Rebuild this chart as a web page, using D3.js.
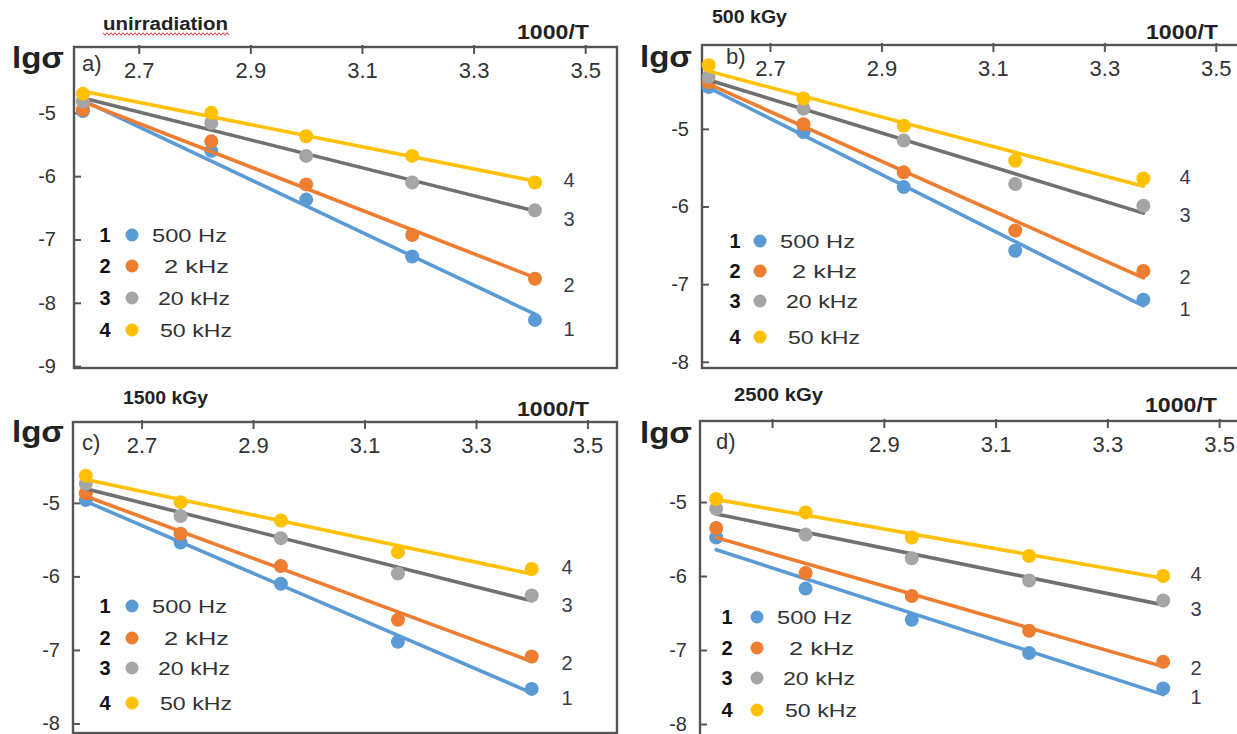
<!DOCTYPE html>
<html>
<head>
<meta charset="utf-8">
<script src="https://cdn.jsdelivr.net/npm/d3@7"></script>
<style>
  html, body { margin: 0; padding: 0; background: #fff; }
  svg { display: block; font-family: "Liberation Sans", Arial, sans-serif; }
</style>
</head>
<body>
<svg id="chart" width="1237" height="734"></svg>
<script>
// ---- data -------------------------------------------------------------
// 1000/T values at which lg(sigma) was measured, per dose
const xA = [2.60, 2.83, 3.00, 3.19, 3.41];
const xB = [2.59, 2.76, 2.94, 3.14, 3.37];
const xC = [2.60, 2.77, 2.95, 3.16, 3.40];
const xD = [2.60, 2.76, 2.95, 3.16, 3.40];

// lg(sigma) for 500 Hz, 2 kHz, 20 kHz, 50 kHz
const a500 = [-4.97, -5.60, -6.37, -7.27, -8.27];
const a2k  = [-4.95, -5.45, -6.13, -6.93, -7.62];
const a20k = [-4.82, -5.16, -5.68, -6.10, -6.54];
const a50k = [-4.70, -5.00, -5.37, -5.68, -6.10];

const b500 = [-4.46, -5.04, -5.75, -6.57, -7.20];
const b2k  = [-4.40, -4.94, -5.56, -6.31, -6.83];
const b20k = [-4.33, -4.74, -5.15, -5.71, -5.99];
const b50k = [-4.18, -4.61, -4.96, -5.41, -5.64];

const c500 = [-4.96, -5.54, -6.10, -6.89, -7.53];
const c2k  = [-4.87, -5.42, -5.86, -6.59, -7.09];
const c20k = [-4.74, -5.18, -5.48, -5.96, -6.26];
const c50k = [-4.63, -4.99, -5.24, -5.67, -5.90];

const d500 = [-5.48, -6.17, -6.59, -7.04, -7.52];
const d2k  = [-5.35, -5.96, -6.27, -6.74, -7.16];
const d20k = [-5.09, -5.44, -5.76, -6.06, -6.33];
const d50k = [-4.96, -5.14, -5.48, -5.73, -6.00];

const seriesNumbers = ["1", "2", "3", "4"];
const freqLabels = ["500 Hz", "2  kHz", "20 kHz", "50 kHz"];
const doseTitles = ["unirradiation", "500 kGy", "1500 kGy", "2500 kGy"];
const panelLetters = ["a)", "b)", "c)", "d)"];
const xTicks = [2.7, 2.9, 3.1, 3.3, 3.5];
const xTickLabels = ["2.7", "2.9", "3.1", "3.3", "3.5"];
const xTickLabelsD = ["", "2.9", "3.1", "3.3", "3.5"];
const yTicksA = [-9, -8, -7, -6, -5];
const yTicksBCD = [-8, -7, -6, -5];

// ---- styling ----------------------------------------------------------
const dotColors  = ["#5b9bd5", "#ed7d31", "#a5a5a5", "#ffc000"];
const lineColors = ["#5b9bd5", "#ed7d31", "#707070", "#ffc000"];
const frameColor = "#555";
const textDark = "#333";
const endLabelShift = [9, 6, 9, -2];

// ---- panel layout -----------------------------------------------------
const panels = [
  { title: doseTitles[0], letter: panelLetters[0], xs: xA, series: [a500, a2k, a20k, a50k],
    frame: { l: 74, t: 47, r: 617, b: 368 }, xDom: [2.584, 3.557], yDom: [-9.03, -3.96],
    yTicks: yTicksA, tickLabels: xTickLabels, yPad: 18,
    igs: [12, 68], letterPos: [82, 71], titlePos: [103, 30, 125], unitPos: [517, 39],
    legend: { num: 105, dot: 132, text: [152, 164, 158, 160], rows: [235, 266, 298, 330] },
    endX: 569, squiggle: true },
  { title: doseTitles[1], letter: panelLetters[1], xs: xB, series: [b500, b2k, b20k, b50k],
    frame: { l: 702, t: 45, r: 1242, b: 368 }, xDom: [2.578, 3.547], yDom: [-8.08, -3.92],
    yTicks: yTicksBCD, tickLabels: xTickLabels, yPad: 13,
    igs: [640, 67], letterPos: [726, 64], titlePos: [712, 23, 75], unitPos: [1146, 39],
    legend: { num: 735, dot: 760, text: [780, 792, 786, 788], rows: [241, 271, 301, 337] },
    endX: 1185 },
  { title: doseTitles[2], letter: panelLetters[2], xs: xC, series: [c500, c2k, c20k, c50k],
    frame: { l: 73, t: 422, r: 617, b: 733 }, xDom: [2.577, 3.553], yDom: [-8.13, -3.90],
    yTicks: yTicksBCD, tickLabels: xTickLabels, yPad: 13,
    igs: [12, 442], letterPos: [82, 450], titlePos: [123, 404, 85], unitPos: [517, 416],
    legend: { num: 105, dot: 132, text: [152, 164, 158, 160], rows: [606, 638, 668, 703] },
    endX: 567 },
  { title: doseTitles[3], letter: panelLetters[3], xs: xD, series: [d500, d2k, d20k, d50k],
    frame: { l: 700, t: 421, r: 1242, b: 740 }, xDom: [2.571, 3.541], yDom: [-8.216, -3.905],
    yTicks: yTicksBCD, tickLabels: xTickLabelsD, yPad: 13,
    igs: [640, 443], letterPos: [716, 449], titlePos: [734, 401, 89], unitPos: [1145, 412],
    legend: { num: 727, dot: 757, text: [777, 789, 783, 785], rows: [617, 648, 678, 710] },
    endX: 1196 }
];

const svg = d3.select("#chart");

function addText(g, x, y, str, o) {
  const t = g.append("text")
    .attr("x", x).attr("y", y)
    .attr("font-size", o.size)
    .attr("font-weight", o.weight || "normal")
    .attr("fill", o.fill || textDark)
    .attr("text-anchor", o.anchor || "start")
    .text(str);
  if (o.len) t.attr("textLength", o.len).attr("lengthAdjust", "spacingAndGlyphs");
  if (o.dy) t.attr("dy", o.dy);
  return t;
}

// least-squares straight line through a series
function fitLine(xs, ys) {
  const mx = d3.mean(xs), my = d3.mean(ys);
  const sxy = d3.sum(xs, (x, i) => (x - mx) * (ys[i] - my));
  const sxx = d3.sum(xs, x => (x - mx) * (x - mx));
  const k = sxy / sxx;
  return x => my + k * (x - mx);
}

panels.forEach(p => {
  const f = p.frame;
  const g = svg.append("g");
  const x = d3.scaleLinear().domain(p.xDom).range([f.l, f.r]);
  const y = d3.scaleLinear().domain(p.yDom).range([f.b, f.t]);

  // frame
  g.append("rect")
    .attr("x", f.l).attr("y", f.t)
    .attr("width", f.r - f.l).attr("height", f.b - f.t)
    .attr("fill", "none").attr("stroke", frameColor).attr("stroke-width", 2.4);

  // top axis: ticks point inward, labels sit just below the frame line
  const xAxis = d3.axisTop(x).tickValues(xTicks).tickSize(-7)
    .tickFormat((d, i) => p.tickLabels[i]);
  const gx = g.append("g").attr("transform", `translate(0,${f.t})`).call(xAxis);
  gx.select(".domain").remove();
  gx.selectAll(".tick line").attr("stroke", frameColor).attr("stroke-width", 2)
    .attr("y1", -2);
  gx.selectAll(".tick text")
    .attr("y", 31).attr("dy", 0)
    .attr("font-size", 22).attr("fill", textDark)
    .attr("font-family", "Liberation Sans, Arial, sans-serif");

  // left axis (plain hyphen for the minus sign)
  const yAxis = d3.axisLeft(y).tickValues(p.yTicks).tickSize(-7).tickPadding(p.yPad)
    .tickFormat(d => String(d));
  const gy = g.append("g").attr("transform", `translate(${f.l},0)`).call(yAxis);
  gy.select(".domain").remove();
  gy.selectAll(".tick line").attr("stroke", frameColor).attr("stroke-width", 2);
  gy.selectAll(".tick text")
    .attr("font-size", 20).attr("fill", textDark)
    .attr("font-family", "Liberation Sans, Arial, sans-serif");

  // titles and axis names
  addText(g, p.titlePos[0], p.titlePos[1], p.title, { size: 18, weight: "bold", fill: "#222", len: p.titlePos[2] });
  addText(g, p.unitPos[0], p.unitPos[1], "1000/T", { size: 21, weight: "bold", fill: "#222", len: 72 });
  addText(g, p.igs[0], p.igs[1], "lgσ", { size: 29, weight: "bold", fill: "#222", len: 52 });
  addText(g, p.letterPos[0], p.letterPos[1], p.letter, { size: 22, fill: textDark });

  if (p.squiggle) {
    const x0 = p.titlePos[0], x1 = x0 + p.titlePos[2] + 2, yy = p.titlePos[1] + 4;
    const pts = d3.range(x0, x1, 2).map((xx, i) => [xx, yy + (i % 2 ? 1.3 : -1.3)]);
    g.append("path").attr("d", d3.line()(pts))
      .attr("fill", "none").attr("stroke", "#e23b3b").attr("stroke-width", 1);
  }

  // series: fitted line, then measured points
  const x0 = d3.min(p.xs), x1 = d3.max(p.xs);
  p.series.forEach((ys, i) => {
    const fit = fitLine(p.xs, ys);
    g.append("path")
      .attr("d", d3.line().x(d => x(d)).y(d => y(fit(d)))([x0, x1]))
      .attr("fill", "none").attr("stroke", lineColors[i])
      .attr("stroke-width", 3.6).attr("stroke-linecap", "round");
    g.selectAll(null).data(ys).join("circle")
      .attr("cx", (d, j) => x(p.xs[j])).attr("cy", d => y(d))
      .attr("r", 7).attr("fill", dotColors[i]);
    // curve number next to the last point
    addText(g, p.endX, y(ys[ys.length - 1]) + endLabelShift[i], seriesNumbers[i],
      { size: 20, fill: "#3b3b4e", anchor: "middle", dy: "0.35em" });
  });

  // legend
  const L = p.legend;
  seriesNumbers.forEach((n, i) => {
    const ry = L.rows[i];
    addText(g, L.num, ry, n, { size: 20, weight: "bold", fill: "#111", anchor: "middle", dy: "0.35em" });
    g.append("circle").attr("cx", L.dot).attr("cy", ry).attr("r", 6.5).attr("fill", dotColors[i]);
    addText(g, L.text[i], ry, freqLabels[i], { size: 19, fill: textDark, dy: "0.35em",
      len: [75, 65, 72, 72][i] });
  });
});
</script>
</body>
</html>
